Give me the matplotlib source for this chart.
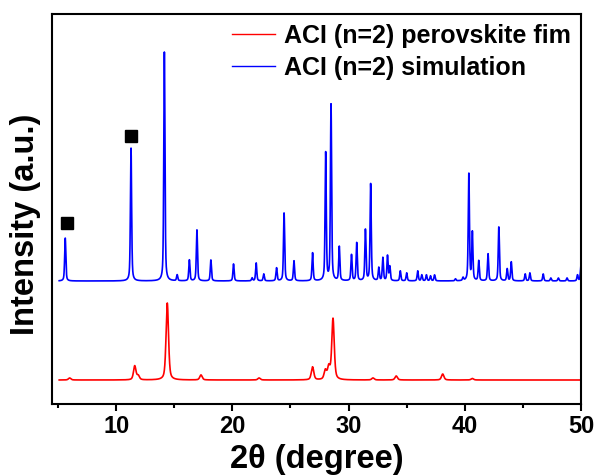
import matplotlib
matplotlib.use('Agg')
import matplotlib.pyplot as plt
import numpy as np

# peak lists (2theta in degree, height in a.u.)
sim_pos = [5.62, 11.28, 14.15, 15.25, 16.3, 16.95, 18.15, 20.1, 21.7, 22.05, 22.7, 23.8,
           24.45, 25.3, 26.9, 28.03, 28.49, 29.2, 30.25, 30.7, 31.45, 31.9, 32.6, 32.95,
           33.35, 33.55, 34.45, 35.0, 35.95, 36.3, 36.7, 37.05, 37.4, 39.2, 39.85, 40.35,
           40.65, 41.2, 42.0, 42.93, 43.65, 44.0, 45.2, 45.6, 46.75, 47.4, 48.05, 48.8,
           49.7, 50.0]
sim_int = [43, 133, 229, 6, 21, 51, 21, 17, 3, 18, 7, 13,
           68, 20, 28, 128, 176, 34, 26, 38, 51, 97, 13, 23,
           25, 14, 10, 8, 10, 6, 6, 5, 6, 2, 3, 107,
           48, 20, 27, 54, 12, 19, 7, 8, 7, 3, 3, 3,
           6, 16]

film_pos = [6.0, 11.6, 11.9, 14.4, 17.3, 22.3, 26.9, 28.0, 28.3, 28.66, 32.1, 34.1, 38.1, 40.65]
film_int = [2, 14, 4, 77, 5, 2, 13, 9, 12, 61, 2, 4, 6, 1.5]

# markers above the two low-angle simulated peaks
mark_pos = [5.81, 11.26]
mark_int = [157, 244]

sim_offset = 99
xmin, xmax = 4.48, 50


def pattern(x, pos, hgt, fwhm, eta=0.5):
    y = np.zeros_like(x)
    for p, h in zip(pos, hgt):
        g = np.exp(-4 * np.log(2) * ((x - p) / fwhm) ** 2)
        l = 1 / (1 + 4 * ((x - p) / fwhm) ** 2)
        y += h * (eta * l + (1 - eta) * g)
    return y


x = np.linspace(5.1, 50, 6000)
y_sim = pattern(x, sim_pos, sim_int, 0.12) + sim_offset
y_film = pattern(x, film_pos, film_int, 0.25)

plt.rcParams['font.family'] = ['Liberation Sans', 'DejaVu Sans']
plt.rcParams['font.weight'] = 'bold'

fig = plt.figure(figsize=(5.98, 4.75), dpi=100)
ax = fig.add_axes([52 / 598, 1 - 404 / 475, 529 / 598, 390 / 475])

ax.plot(x, y_film, color='#ff0000', lw=1.2, label='ACI (n=2) perovskite fim')
ax.plot(x, y_sim, color='#0000ff', lw=1.2, label='ACI (n=2) simulation')
ax.plot(mark_pos, mark_int, 's', color='black', ms=8.5, ls='none')

ax.set_xlim(xmin, xmax)
ax.set_ylim(-24, 366)
ax.set_xticks([10, 20, 30, 40, 50])
ax.set_xticks([5, 15, 25, 35, 45], minor=True)
ax.set_yticks([])
ax.tick_params(axis='x', which='major', direction='out', length=5, width=1.5,
               labelsize=17, pad=3)
ax.tick_params(axis='x', which='minor', direction='out', length=3, width=1.5)
for lab in ax.get_xticklabels():
    lab.set_fontweight('bold')
for s in ax.spines.values():
    s.set_linewidth(1.5)

ax.set_xlabel('2θ (degree)', fontsize=23.5, fontweight='bold', labelpad=4)
ax.set_ylabel('Intensity (a.u.)', fontsize=23.5, fontweight='bold')
ax.yaxis.set_label_coords(-0.02, 0.46)

leg = ax.legend(loc='upper right', frameon=False, fontsize=18, handlelength=1.75,
                handletextpad=0.35, labelspacing=0.3, borderaxespad=0.1, borderpad=0.3)
for t in leg.get_texts():
    t.set_fontweight('bold')
for h in leg.get_lines():
    h.set_linewidth(1.0)

fig.savefig('out.png', dpi=100)
